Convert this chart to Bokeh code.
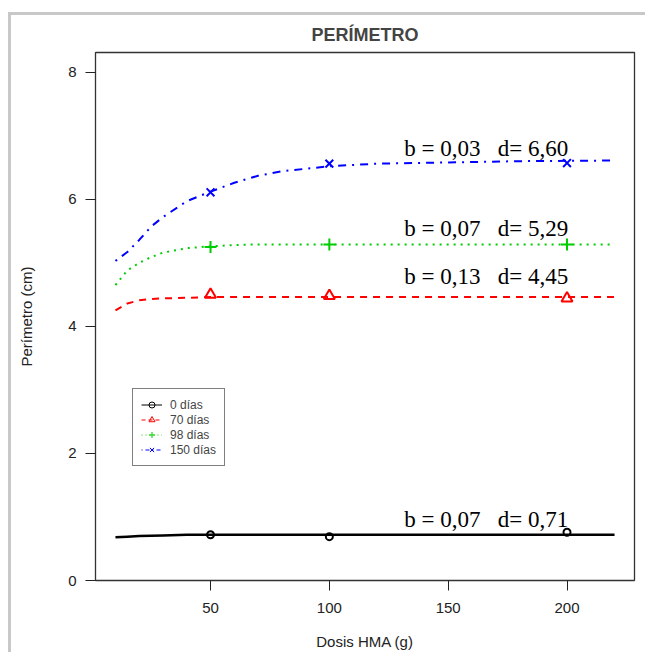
from bokeh.plotting import figure
from bokeh.models import Range1d, FixedTicker, Legend, LegendItem, ColumnDataSource, InlineStyleSheet
from bokeh.core.properties import value
from bokeh.embed import file_html
from bokeh.resources import INLINE

# ---------------- data ----------------
series = ["0 días", "70 días", "98 días", "150 días"]
dosis = [50, 100, 200]
obs_0 = [0.72, 0.69, 0.76]
obs_70 = [4.50, 4.48, 4.44]
obs_98 = [5.25, 5.29, 5.29]
obs_150 = [6.11, 6.56, 6.57]

curve_x = [10, 15, 20, 25, 30, 40, 50, 60, 70, 80, 90, 100, 120, 150, 180, 220]
curve_0 = [0.68, 0.69, 0.70, 0.705, 0.71, 0.72, 0.72, 0.72, 0.72, 0.72, 0.72, 0.72, 0.72, 0.72, 0.72, 0.72]
curve_70 = [4.25, 4.36, 4.41, 4.43, 4.44, 4.45, 4.46, 4.46, 4.46, 4.46, 4.46, 4.46, 4.46, 4.46, 4.46, 4.46]
curve_98 = [4.65, 4.88, 5.00, 5.09, 5.16, 5.23, 5.26, 5.28, 5.29, 5.29, 5.29, 5.29, 5.29, 5.29, 5.29, 5.29]
curve_150 = [5.03, 5.17, 5.36, 5.57, 5.72, 5.97, 6.12, 6.26, 6.37, 6.44, 6.48, 6.52, 6.56, 6.58, 6.60, 6.61]

NB = "\u00a0"
ann_text = ["b = 0,07" + NB * 3 + "d= 0,71", "b = 0,13" + NB * 3 + "d= 4,45",
            "b = 0,07" + NB * 3 + "d= 5,29", "b = 0,03" + NB * 3 + "d= 6,60"]
ann_x = [166, 166, 166, 166]
ann_y = [0.96, 4.79, 5.54, 6.80]

x_ticks = [50, 100, 150, 200]
y_ticks = [0, 2, 4, 6, 8]

# ---------------- styles ----------------
colors = ["#000000", "#FF0000", "#00CD00", "#0000FF"]
dashes = ["solid", "7 6", "2 5", "2 6 8 6"]
leg_dashes = ["solid", "4 3", "1 3", "1 3 4 3"]
markers = ["circle", "triangle", "cross", "x"]
msizes = [7, 11, 12, 11]
leg_msizes = [6, 8, 9, 7]
lwidths = [2.5, 2, 2, 2]

SANS = "Liberation Sans"
SERIF = "Liberation Serif"

frame_css = InlineStyleSheet(css="""
:host::after {
  content: "";
  position: absolute;
  left: 8px; top: 12px; right: 0px; bottom: 0px;
  border-top: 3px solid #c8c8c8;
  border-left: 3px solid #c8c8c8;
  pointer-events: none;
}
""")

p = figure(width=645, height=652, output_backend="svg", toolbar_location=None,
           x_range=Range1d(1.6, 228.4), y_range=Range1d(0, 8.31),
           min_border_left=95, min_border_right=11, min_border_top=52, min_border_bottom=71,
           stylesheets=[frame_css])

p.background_fill_color = "white"
p.border_fill_color = "white"
p.outline_line_color = "#333333"
p.outline_line_width = 1.3
p.xgrid.visible = False
p.ygrid.visible = False

p.title.text = "PERÍMETRO"
p.title.align = "center"
p.title.text_font = SANS
p.title.text_font_style = "bold"
p.title.text_font_size = "18px"
p.title.standoff = 16

for ax in (p.xaxis[0], p.yaxis[0]):
    ax.axis_line_color = None
    ax.major_tick_in = 0
    ax.major_tick_out = 10
    ax.major_tick_line_color = "#222222"
    ax.minor_tick_line_color = None
    ax.major_label_text_font = SANS
    ax.major_label_text_font_size = "15px"
    ax.major_label_text_color = "#222222"
    ax.major_label_text_line_height = 1.0
    ax.axis_label_text_font = SANS
    ax.axis_label_text_font_size = "15px"
    ax.axis_label_text_font_style = "normal"
    ax.axis_label_text_color = "#222222"
    ax.axis_label_text_line_height = 1.0

p.xaxis.ticker = FixedTicker(ticks=x_ticks)
p.yaxis.ticker = FixedTicker(ticks=y_ticks)
p.yaxis.major_label_orientation = "horizontal"
p.xaxis.axis_label = "Dosis HMA (g)"
p.yaxis.axis_label = "Perímetro (cm)"
p.xaxis.major_label_standoff = 12
p.xaxis.axis_label_standoff = 17
p.yaxis.major_label_standoff = 9
p.yaxis.axis_label_standoff = 30

curves = [curve_0, curve_70, curve_98, curve_150]
obs = [obs_0, obs_70, obs_98, obs_150]

for i in range(4):
    p.line(curve_x, curves[i], line_color=colors[i], line_width=lwidths[i], line_dash=dashes[i])
    p.scatter(dosis, obs[i], marker=markers[i], size=msizes[i], line_color=colors[i],
              fill_color=None, line_width=2)

# annotations
src = ColumnDataSource(dict(x=ann_x, y=ann_y, t=ann_text))
p.text(x="x", y="y", text="t", source=src, text_font=value(SERIF), text_font_size="23px",
       text_align="center", text_baseline="middle", text_color="black")

# legend (thin sample glyphs with NaN data so only the legend shows them)
nan = float("nan")
items = []
for i in range(4):
    lr = p.line([nan, nan], [nan, nan], line_color=colors[i], line_width=1, line_dash=leg_dashes[i])
    sr = p.scatter([nan], [nan], marker=markers[i], size=leg_msizes[i], line_color=colors[i],
                   fill_color=None, line_width=1)
    items.append(LegendItem(label=series[i], renderers=[lr, sr]))

legend = Legend(items=items, location=(37, 114), orientation="vertical")
legend.border_line_color = "black"
legend.border_line_width = 1
legend.background_fill_color = "white"
legend.background_fill_alpha = 1
legend.label_text_font = SANS
legend.label_text_font_size = "12px"
legend.glyph_width = 21
legend.glyph_height = 15
legend.label_height = 15
legend.spacing = 0
legend.padding = 8
legend.margin = 0
legend.label_standoff = 8
p.add_layout(legend, "center")

open("out.html", "w").write(file_html(p, INLINE))
